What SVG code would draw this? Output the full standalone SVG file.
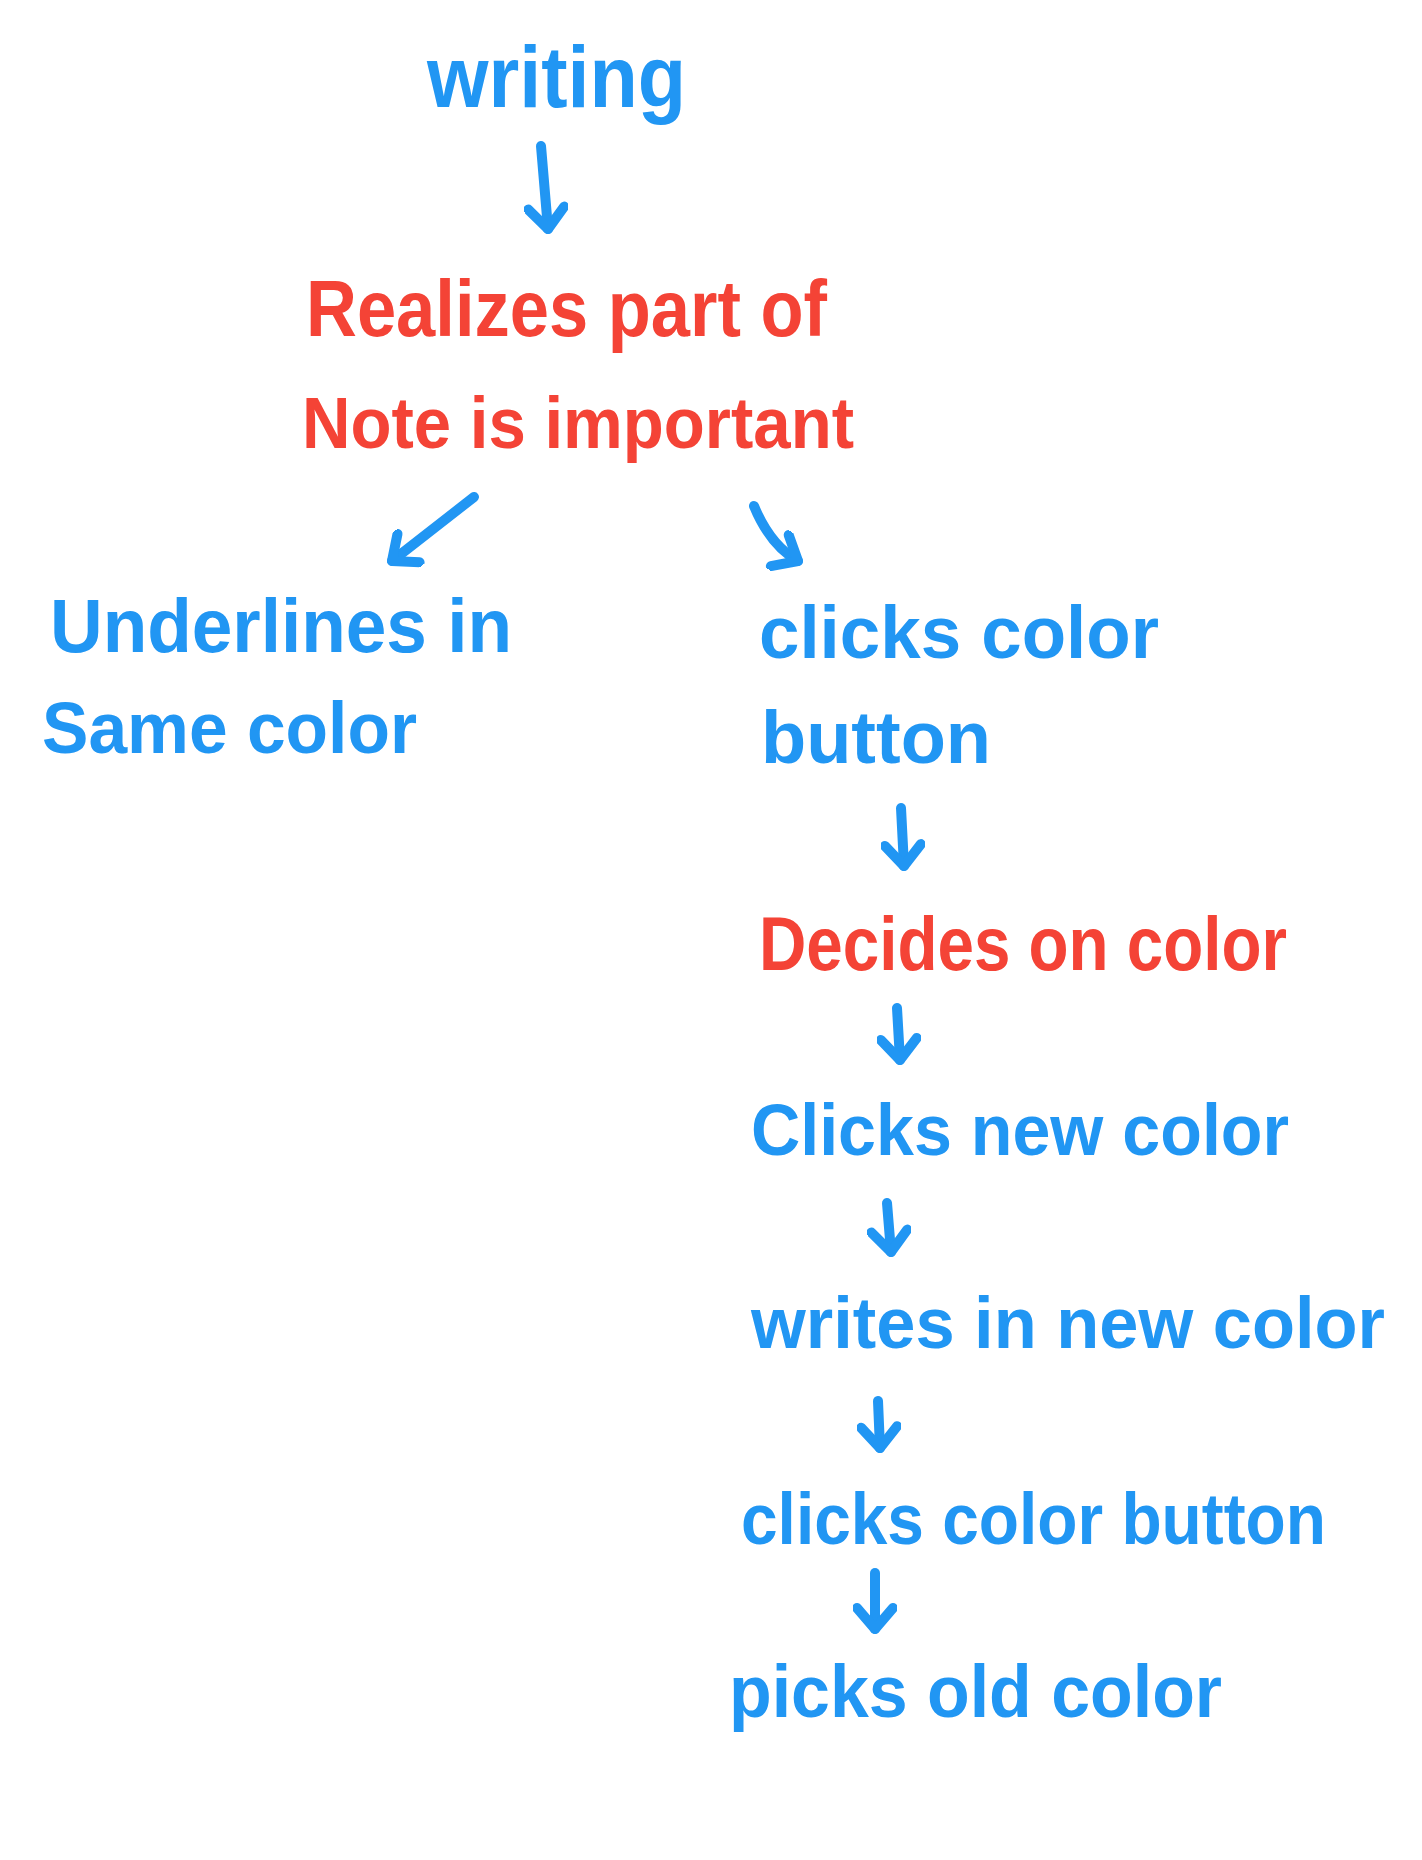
<svg xmlns="http://www.w3.org/2000/svg" width="1422" height="1860" viewBox="0 0 1422 1860">
<style>
.t{font-family:"Liberation Sans",Arial,sans-serif;font-weight:bold;}
.b{fill:#2196F3;}
.r{fill:#F44336;}
.c{stroke:#2196F3;stroke-width:10;stroke-linecap:round;stroke-linejoin:round;fill:none;marker-end:url(#ah);}
</style>
<defs>
<marker id="ah" viewBox="0 0 44 44" refX="33" refY="22" markerWidth="44" markerHeight="44" markerUnits="userSpaceOnUse" orient="auto">
<path d="M 12 4 L 33 22 L 12 40" fill="none" stroke="#2196F3" stroke-width="10" stroke-linecap="round" stroke-linejoin="round"/>
</marker>
</defs>
<rect width="1422" height="1860" fill="#ffffff"/>
<g id="connectors">
<path class="c" d="M 541 146 L 548 229"/>
<path class="c" d="M 474 497 L 392 561"/>
<path class="c" d="M 754 506 Q 770 545 798 561"/>
<path class="c" d="M 901 808 L 904 866"/>
<path class="c" d="M 897 1008 L 900 1060"/>
<path class="c" d="M 887 1203 L 891 1252"/>
<path class="c" d="M 878 1401 L 880 1448"/>
<path class="c" d="M 875 1573 L 875 1629"/>
</g>
<g id="n-writing"><text class="t b" x="427" y="107" font-size="88" textLength="259" lengthAdjust="spacingAndGlyphs">writing</text></g>
<g id="n-realizes"><text class="t r" x="306" y="336" font-size="80" textLength="521" lengthAdjust="spacingAndGlyphs">Realizes part of</text>
<text class="t r" x="302" y="448" font-size="72" textLength="552" lengthAdjust="spacingAndGlyphs">Note is important</text></g>
<g id="n-underlines"><text class="t b" x="50" y="652" font-size="76" textLength="462" lengthAdjust="spacingAndGlyphs">Underlines in</text>
<text class="t b" x="42" y="753" font-size="72" textLength="375" lengthAdjust="spacingAndGlyphs">Same color</text></g>
<g id="n-clicks1"><text class="t b" x="759" y="658" font-size="74" textLength="400" lengthAdjust="spacingAndGlyphs">clicks color</text>
<text class="t b" x="761" y="763" font-size="74" textLength="230" lengthAdjust="spacingAndGlyphs">button</text></g>
<g id="n-decides"><text class="t r" x="759" y="970" font-size="76" textLength="528" lengthAdjust="spacingAndGlyphs">Decides on color</text></g>
<g id="n-clicksnew"><text class="t b" x="751" y="1155" font-size="72" textLength="538" lengthAdjust="spacingAndGlyphs">Clicks new color</text></g>
<g id="n-writes"><text class="t b" x="751" y="1348" font-size="72" textLength="634" lengthAdjust="spacingAndGlyphs">writes in new color</text></g>
<g id="n-clicks2"><text class="t b" x="741" y="1544" font-size="72" textLength="585" lengthAdjust="spacingAndGlyphs">clicks color button</text></g>
<g id="n-picks"><text class="t b" x="729" y="1717" font-size="74" textLength="493" lengthAdjust="spacingAndGlyphs">picks old color</text></g>
</svg>
